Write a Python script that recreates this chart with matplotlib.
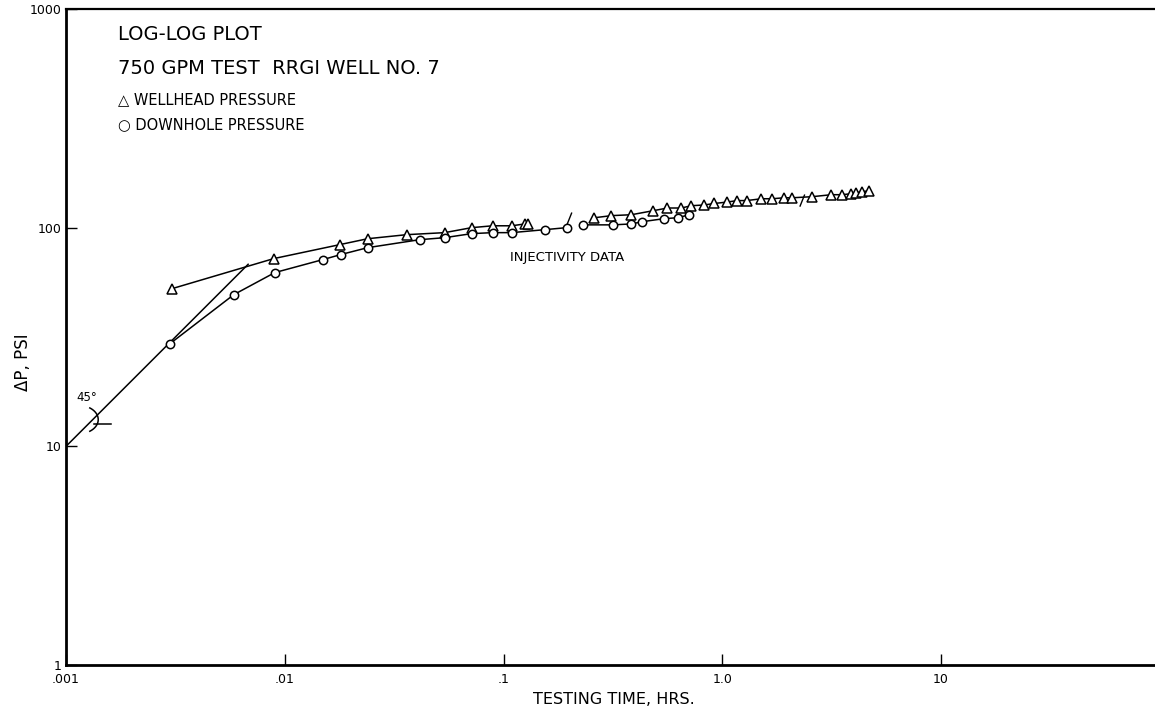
import numpy as np
import matplotlib
matplotlib.use("Agg")
import matplotlib.pyplot as plt

# injectivity test data
# wellhead pressure (triangles), two drawn segments
wh_t1 = [0.00305, 0.0089, 0.0178, 0.0239, 0.0361, 0.0538, 0.0714, 0.0891, 0.109, 0.125, 0.130]
wh_p1 = [52.6, 72.2, 83.6, 89.0, 92.9, 94.9, 100.0, 102.0, 102.0, 104.0, 104.0]
wh_t2 = [0.26, 0.311, 0.384, 0.484, 0.561, 0.65, 0.721, 0.827, 0.919, 1.055, 1.17, 1.29,
         1.51, 1.69, 1.92, 2.09, 2.58, 3.15, 3.53, 3.88, 4.09, 4.36, 4.69]
wh_p2 = [111, 113.5, 114.6, 119.6, 123, 123, 126, 127, 129, 131, 133, 133,
         135.6, 135.6, 137, 137, 138.6, 141.5, 141.5, 143, 144.5, 146, 147.6]

# downhole pressure (circles)
dh_t1 = [0.00299, 0.00585, 0.009, 0.0149, 0.018, 0.0239, 0.0413, 0.0538, 0.0714, 0.0891, 0.109, 0.154, 0.194]
dh_p1 = [29.5, 49.4, 62.3, 71.4, 75.3, 81.0, 88.1, 90.0, 93.9, 94.9, 94.9, 97.9, 100.0]
dh_t2 = [0.230, 0.315, 0.384, 0.431, 0.543, 0.624, 0.707]
dh_p2 = [103, 103, 104, 106.5, 110, 111, 114.6]

# unit slope (45 deg) line, dP = 1e4 * t
slope_t = [0.001, 0.0068]
slope_p = [1e4 * t for t in slope_t]

# little hand-drawn break strokes on the curves
break_t = [0.20, 2.32]
break_p = [110, 133]

xticks = [0.001, 0.01, 0.1, 1, 10]
xtick_labels = ['.001', '.01', '.1', '1.0', '10']
yticks = [1, 10, 100, 1000]
ytick_labels = ['1', '10', '100', '1000']

W, H = 1155, 725


def fx(px):
    return px / W


def fy(py):
    return 1 - py / H


fig = plt.figure(figsize=(W / 100, H / 100), dpi=100)
ax = fig.add_axes([fx(66), fy(665), 1 - fx(66), fy(9) - fy(665)])
ax.set_xscale('log')
ax.set_yscale('log')
ax.set_xlim(0.001, 95)
ax.set_ylim(1, 1000)

line_kw = dict(color='black', lw=1.1)
tri_kw = dict(marker='^', ms=6.5, mfc='white', mec='black', mew=1.1)
circ_kw = dict(marker='o', ms=6, mfc='white', mec='black', mew=1.1)

ax.plot(slope_t, slope_p, **line_kw)
ax.plot(wh_t1, wh_p1, **line_kw, **tri_kw)
ax.plot(wh_t2, wh_p2, **line_kw, **tri_kw)
ax.plot(dh_t1, dh_p1, **line_kw, **circ_kw)
ax.plot(dh_t2, dh_p2, **line_kw, **circ_kw)

for bt, bp in zip(break_t, break_p):
    lb, lpb = np.log10(bt), np.log10(bp)
    ax.plot([10 ** (lb - 0.01), 10 ** (lb + 0.01)], [10 ** (lpb - 0.025), 10 ** (lpb + 0.025)],
            color='black', lw=1)

# 45 deg angle mark: short horizontal stroke and a small arc near the slope line
tc, pc = 0.00131, 13.1
lt, lp = np.log10(tc), np.log10(pc)
ax.plot([10 ** (lt + 0.01), 10 ** (lt + 0.09)], [10 ** (lp - 0.015)] * 2, **line_kw)
ang = np.radians(np.linspace(-55, 55, 30))
ax.plot(10 ** (lt - 0.06 + 0.09 * np.cos(ang)), 10 ** (lp + 0.005 + 0.065 * np.sin(ang)), **line_kw)
ax.text(0.00112, 15.6, '45°', fontsize=8.5, ha='left', va='bottom')

ax.set_xticks(xticks)
ax.set_xticklabels(xtick_labels)
ax.set_yticks(yticks)
ax.set_yticklabels(ytick_labels)
ax.minorticks_off()
ax.tick_params(direction='in', length=8, width=1, labelsize=9, pad=6)
ax.tick_params(axis='y', pad=3)

for side in ['left', 'bottom']:
    ax.spines[side].set_linewidth(2)
ax.spines['top'].set_linewidth(1.6)
ax.spines['right'].set_visible(False)

fig.text(fx(23), fy(362), 'ΔP, PSI', rotation=90, fontsize=12, ha='center', va='center')
fig.text(fx(614), fy(700), 'TESTING TIME, HRS.', fontsize=11.5, ha='center', va='center')

fig.text(fx(118), fy(35), 'LOG-LOG PLOT', fontsize=14, ha='left', va='center')
fig.text(fx(118), fy(68), '750 GPM TEST  RRGI WELL NO. 7', fontsize=14, ha='left', va='center')
fig.text(fx(118), fy(100), '△ WELLHEAD PRESSURE', fontsize=10.5, ha='left', va='center')
fig.text(fx(118), fy(125), '○ DOWNHOLE PRESSURE', fontsize=10.5, ha='left', va='center')
fig.text(fx(510), fy(257), 'INJECTIVITY DATA', fontsize=9.5, ha='left', va='center')

fig.savefig('out.png', dpi=100, facecolor='white')
